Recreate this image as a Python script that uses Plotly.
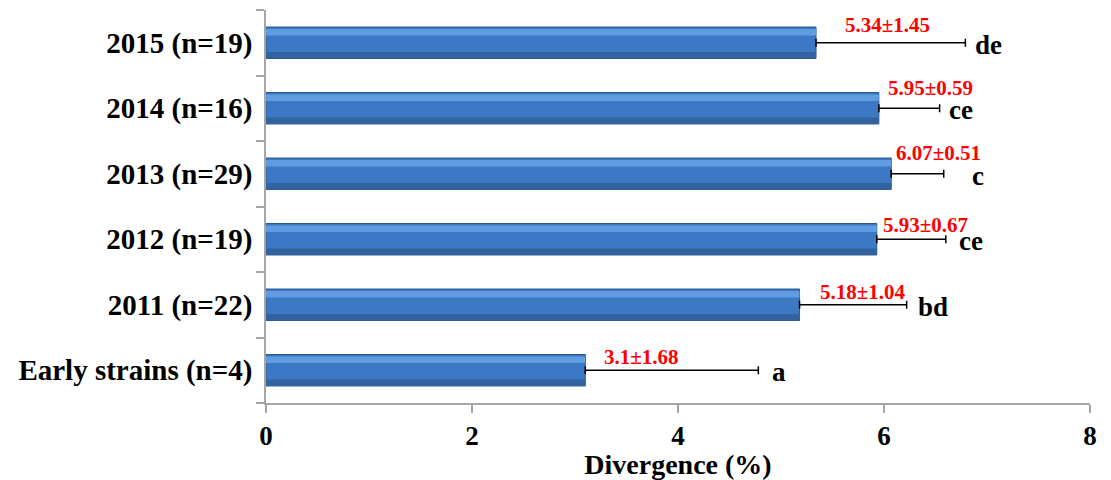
import plotly.graph_objects as go

categories = ["Early strains (n=4)", "2011 (n=22)", "2012 (n=19)", "2013 (n=29)", "2014 (n=16)", "2015 (n=19)"]
means = [3.1, 5.18, 5.93, 6.07, 5.95, 5.34]
sds = [1.68, 1.04, 0.67, 0.51, 0.59, 1.45]
letters = ["a", "bd", "ce", "c", "ce", "de"]
value_labels = ["3.1±1.68", "5.18±1.04", "5.93±0.67", "6.07±0.51", "5.95±0.59", "5.34±1.45"]

FONT = "Liberation Serif"

# label placement tweaks (pixels), matching the reference layout
label_shift = {
    "value_x": [17, 18, 4, 3, 7, 27],
    "value_y": [13, 13, 14, 21, 20, 18],
    "letter_x": [12, 9, 11, 26, 7, 8],
}

fig = go.Figure()
# main bar (with error bars)
fig.add_trace(go.Bar(
    y=categories, x=means, orientation="h", width=0.48,
    marker=dict(color="#3D78C5", line=dict(color="#2B568F", width=1)),
    error_x=dict(type="data", array=sds, arrayminus=[0]*len(sds), symmetric=False,
                 color="black", thickness=1.5, width=4),
    hoverinfo="skip", showlegend=False,
))
# lower darker band
fig.add_trace(go.Bar(
    y=categories, x=means, orientation="h", width=0.1, offset=-0.24,
    marker=dict(color="#33639F", line=dict(width=0)),
    hoverinfo="skip", showlegend=False,
))
# upper highlight band
fig.add_trace(go.Bar(
    y=categories, x=means, orientation="h", width=0.1, offset=0.11,
    marker=dict(color="#5F9CE0", line=dict(width=0)),
    hoverinfo="skip", showlegend=False,
))

annotations = []
for i, (c, m, s, lab, let) in enumerate(zip(categories, means, sds, value_labels, letters)):
    annotations.append(dict(x=m, y=c, text=lab, xanchor="left", yanchor="middle",
                            xshift=label_shift["value_x"][i], yshift=label_shift["value_y"][i],
                            showarrow=False,
                            font=dict(family=FONT, size=21, color="#FF0000", weight="bold")))
    annotations.append(dict(x=m + s, y=c, text=let, xanchor="left", yanchor="middle",
                            xshift=label_shift["letter_x"][i], yshift=-2, showarrow=False,
                            font=dict(family=FONT, size=27, color="black", weight="bold")))

fig.update_layout(
    width=1111, height=480,
    margin=dict(l=266, r=21, t=10, b=77),
    paper_bgcolor="white", plot_bgcolor="white",
    barmode="overlay",
    annotations=annotations,
    xaxis=dict(range=[0, 8], tickvals=[0, 2, 4, 6, 8], showgrid=False, zeroline=False,
               showline=True, linecolor="#A6A6A6", linewidth=1.5,
               ticks="outside", ticklen=8, tickcolor="#A6A6A6", tickwidth=1.5,
               tickfont=dict(family=FONT, size=27, color="black", weight="bold"),
               title=dict(text="Divergence (%)", standoff=0,
                          font=dict(family=FONT, size=28, color="black", weight="bold"))),
    yaxis=dict(categoryorder="array", categoryarray=categories, type="category",
               showgrid=False, zeroline=False,
               showline=True, linecolor="#A6A6A6", linewidth=1.5,
               ticks="outside", ticklen=8, tickcolor="#A6A6A6", tickwidth=1.5,
               tickson="boundaries", ticklabelstandoff=6,
               tickfont=dict(family=FONT, size=29, color="black", weight="bold")),
)

fig.write_html("out.html")
